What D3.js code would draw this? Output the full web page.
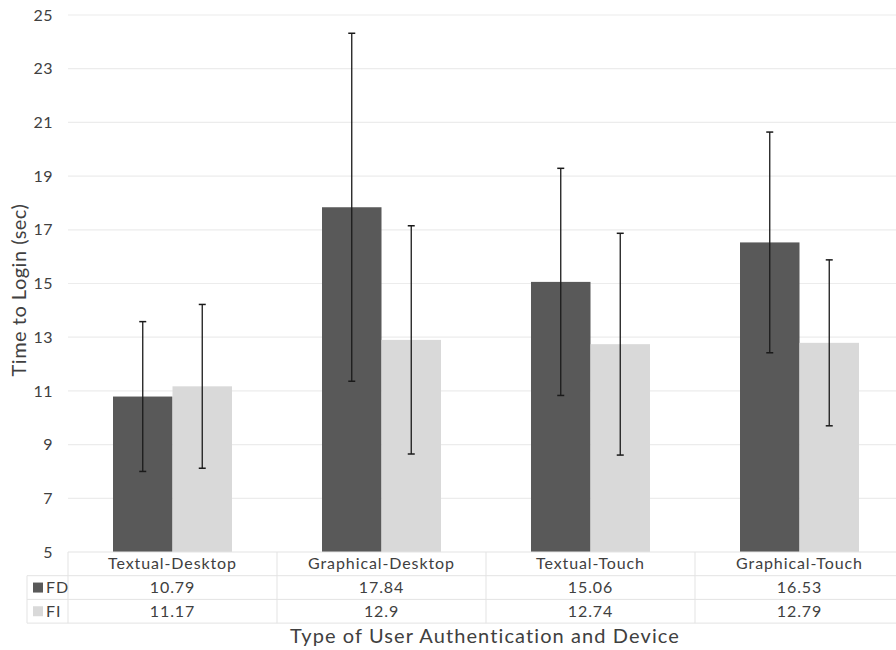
<!DOCTYPE html>
<html><head><meta charset="utf-8">
<script src="https://cdn.jsdelivr.net/npm/d3@7"></script>
<style>body{margin:0;background:#fff}svg{display:block}text{font-family:"Lato","Open Sans",sans-serif;fill:#404040}</style>
</head><body><svg id="c" width="896" height="650"></svg>
<script>
const categories = ["Textual-Desktop","Graphical-Desktop","Textual-Touch","Graphical-Touch"];
const seriesNames = ["FD","FI"];
const fdValues = [10.79, 17.84, 15.06, 16.53];
const fiValues = [11.17, 12.9, 12.74, 12.79];
const fdErr = [2.79, 6.48, 4.23, 4.11];
const fiErr = [3.05, 4.25, 4.13, 3.09];
const yTicks = [5,7,9,11,13,15,17,19,21,23,25];
const fdLabels = ["10.79","17.84","15.06","16.53"];
const fiLabels = ["11.17","12.9","12.74","12.79"];

(function(){
const colors = {FD:"#595959", FI:"#d9d9d9"};
const svg = d3.select("#c");
const pLeft = 68, pRight = 904, pTop = 15, pBottom = 552;
const y = d3.scaleLinear().domain([5,25]).range([pBottom, pTop]);
const x = d3.scaleBand().domain(categories).range([pLeft, pRight]).paddingInner(0).paddingOuter(0);
const bandW = x.bandwidth();
const barW = 59.5;
const xs = d3.scaleBand().domain(seriesNames).range([bandW/2 - barW, bandW/2 + barW]);

svg.append("g").selectAll("line").data(yTicks.slice(1)).join("line")
  .attr("x1", pLeft).attr("x2", pRight).attr("y1", d=>y(d)).attr("y2", d=>y(d))
  .attr("stroke","#ececec").attr("stroke-width",1.2);

const yAxis = d3.axisLeft(y).tickValues(yTicks).tickSize(0).tickPadding(15);
const ya = svg.append("g").attr("transform",`translate(${pLeft},0)`).call(yAxis);
ya.select(".domain").remove();
ya.selectAll("text").style("font-size","16px").style("fill","#404040").style("font-family","Lato, sans-serif").style("letter-spacing","0.5px");

const rows = categories.map((c,i)=>({cat:c, vals:[
  {s:"FD", v:fdValues[i], e:fdErr[i]},
  {s:"FI", v:fiValues[i], e:fiErr[i]}]}));

const g = svg.append("g").selectAll("g").data(rows).join("g")
  .attr("transform", d=>`translate(${x(d.cat)},0)`);
g.selectAll("rect").data(d=>d.vals).join("rect")
  .attr("x", d=>xs(d.s)).attr("width", xs.bandwidth())
  .attr("y", d=>y(d.v)).attr("height", d=>y(5)-y(d.v))
  .attr("fill", d=>colors[d.s]);
const eb = g.selectAll("g.eb").data(d=>d.vals).join("g").attr("class","eb");
eb.append("line").attr("x1", d=>xs(d.s)+xs.bandwidth()/2).attr("x2", d=>xs(d.s)+xs.bandwidth()/2)
  .attr("y1", d=>y(d.v+d.e)).attr("y2", d=>y(d.v-d.e)).attr("stroke","#1a1a1a").attr("stroke-width",1.3);
eb.selectAll("line.cap").data(d=>[{x:xs(d.s)+xs.bandwidth()/2, y:y(d.v+d.e)},{x:xs(d.s)+xs.bandwidth()/2, y:y(d.v-d.e)}])
  .join("line").attr("class","cap")
  .attr("x1", d=>d.x-3.5).attr("x2", d=>d.x+3.5).attr("y1", d=>d.y).attr("y2", d=>d.y)
  .attr("stroke","#1a1a1a").attr("stroke-width",1.5);

const rowH = 23.7;
const tLeft = 27;
const tb = svg.append("g");
const lc = "#e3e3e3";
tb.append("line").attr("x1",pLeft).attr("x2",pRight).attr("y1",pBottom).attr("y2",pBottom).attr("stroke",lc);
[1,2,3].forEach(k=>{
  tb.append("line").attr("x1",tLeft).attr("x2",pRight).attr("y1",pBottom+k*rowH).attr("y2",pBottom+k*rowH).attr("stroke",lc);
});
tb.append("line").attr("x1",tLeft).attr("x2",tLeft).attr("y1",pBottom+rowH).attr("y2",pBottom+3*rowH).attr("stroke",lc);
categories.forEach(c=>{
  tb.append("line").attr("x1",x(c)).attr("x2",x(c)).attr("y1",pBottom).attr("y2",pBottom+3*rowH).attr("stroke",lc);
});
const tstyle = sel => sel.style("font-size","16px").style("letter-spacing","0.9px");
tb.selectAll("text.cat").data(categories).join("text").attr("class","cat")
  .attr("x", d=>x(d)+bandW/2).attr("y", pBottom+rowH/2+5.5).attr("text-anchor","middle")
  .call(tstyle).text(d=>d);
const tableRows = [{s:"FD", labels:fdLabels},{s:"FI", labels:fiLabels}];
tableRows.forEach((r,ri)=>{
  const cy = pBottom + (ri+1)*rowH + rowH/2;
  tb.append("rect").attr("x",33).attr("y",cy-5).attr("width",10).attr("height",10).attr("fill",colors[r.s]);
  tb.append("text").attr("x",46).attr("y",cy+5.5).call(tstyle).text(r.s);
  tb.selectAll(null).data(r.labels).join("text")
    .attr("x",(d,i)=>x(categories[i])+bandW/2).attr("y",cy+5.5).attr("text-anchor","middle")
    .call(tstyle).text(d=>d);
});

svg.append("text").attr("x",485).attr("y",643).attr("text-anchor","middle")
  .style("font-size","20px").style("letter-spacing","1.1px").text("Type of User Authentication and Device");
svg.append("text").attr("transform","translate(26,290) rotate(-90)").attr("text-anchor","middle")
  .style("font-size","20px").style("letter-spacing","0.5px").text("Time to Login (sec)");
})();
</script></body></html>
